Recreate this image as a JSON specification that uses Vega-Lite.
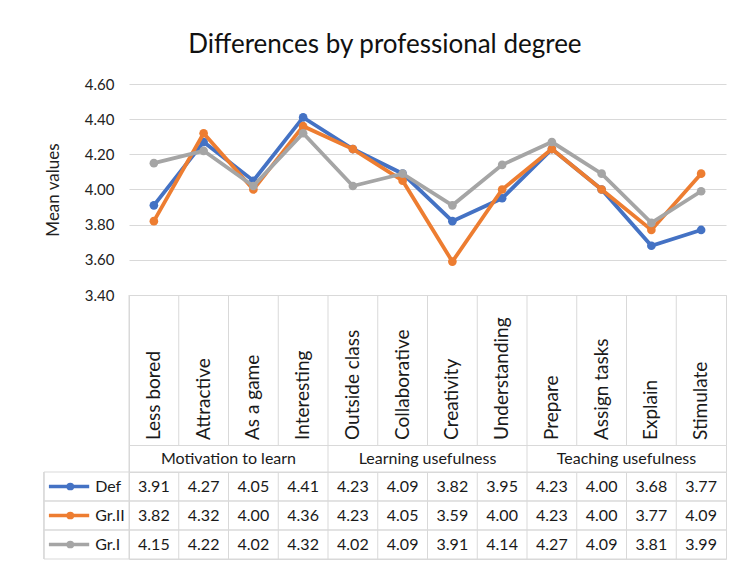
{
  "$schema": "https://vega.github.io/schema/vega-lite/v6.json",
  "background": "white",
  "padding": {"left": 42, "top": 32, "right": 5, "bottom": 5},
  "title": {"text": "Differences by professional degree", "font": "Lato", "fontSize": 26, "fontWeight": "normal", "color": "#111111", "anchor": "middle", "offset": 19},
  "spacing": 0,
  "bounds": "flush",
  "config": {"view": {"stroke": null}, "font": "Lato"},
  "datasets": {
    "values": [
      {"cat": "Less bored", "group": "Motivation to learn", "series": "Def", "value": 3.91},
      {"cat": "Attractive", "group": "Motivation to learn", "series": "Def", "value": 4.27},
      {"cat": "As a game", "group": "Motivation to learn", "series": "Def", "value": 4.05},
      {"cat": "Interesting", "group": "Motivation to learn", "series": "Def", "value": 4.41},
      {"cat": "Outside class", "group": "Learning usefulness", "series": "Def", "value": 4.23},
      {"cat": "Collaborative", "group": "Learning usefulness", "series": "Def", "value": 4.09},
      {"cat": "Creativity", "group": "Learning usefulness", "series": "Def", "value": 3.82},
      {"cat": "Understanding", "group": "Learning usefulness", "series": "Def", "value": 3.95},
      {"cat": "Prepare", "group": "Teaching usefulness", "series": "Def", "value": 4.23},
      {"cat": "Assign tasks", "group": "Teaching usefulness", "series": "Def", "value": 4.00},
      {"cat": "Explain", "group": "Teaching usefulness", "series": "Def", "value": 3.68},
      {"cat": "Stimulate", "group": "Teaching usefulness", "series": "Def", "value": 3.77},
      {"cat": "Less bored", "group": "Motivation to learn", "series": "Gr.II", "value": 3.82},
      {"cat": "Attractive", "group": "Motivation to learn", "series": "Gr.II", "value": 4.32},
      {"cat": "As a game", "group": "Motivation to learn", "series": "Gr.II", "value": 4.00},
      {"cat": "Interesting", "group": "Motivation to learn", "series": "Gr.II", "value": 4.36},
      {"cat": "Outside class", "group": "Learning usefulness", "series": "Gr.II", "value": 4.23},
      {"cat": "Collaborative", "group": "Learning usefulness", "series": "Gr.II", "value": 4.05},
      {"cat": "Creativity", "group": "Learning usefulness", "series": "Gr.II", "value": 3.59},
      {"cat": "Understanding", "group": "Learning usefulness", "series": "Gr.II", "value": 4.00},
      {"cat": "Prepare", "group": "Teaching usefulness", "series": "Gr.II", "value": 4.23},
      {"cat": "Assign tasks", "group": "Teaching usefulness", "series": "Gr.II", "value": 4.00},
      {"cat": "Explain", "group": "Teaching usefulness", "series": "Gr.II", "value": 3.77},
      {"cat": "Stimulate", "group": "Teaching usefulness", "series": "Gr.II", "value": 4.09},
      {"cat": "Less bored", "group": "Motivation to learn", "series": "Gr.I", "value": 4.15},
      {"cat": "Attractive", "group": "Motivation to learn", "series": "Gr.I", "value": 4.22},
      {"cat": "As a game", "group": "Motivation to learn", "series": "Gr.I", "value": 4.02},
      {"cat": "Interesting", "group": "Motivation to learn", "series": "Gr.I", "value": 4.32},
      {"cat": "Outside class", "group": "Learning usefulness", "series": "Gr.I", "value": 4.02},
      {"cat": "Collaborative", "group": "Learning usefulness", "series": "Gr.I", "value": 4.09},
      {"cat": "Creativity", "group": "Learning usefulness", "series": "Gr.I", "value": 3.91},
      {"cat": "Understanding", "group": "Learning usefulness", "series": "Gr.I", "value": 4.14},
      {"cat": "Prepare", "group": "Teaching usefulness", "series": "Gr.I", "value": 4.27},
      {"cat": "Assign tasks", "group": "Teaching usefulness", "series": "Gr.I", "value": 4.09},
      {"cat": "Explain", "group": "Teaching usefulness", "series": "Gr.I", "value": 3.81},
      {"cat": "Stimulate", "group": "Teaching usefulness", "series": "Gr.I", "value": 3.99}
    ],
    "cats": [
      {"cat": "Less bored", "group": "Motivation to learn"},
      {"cat": "Attractive", "group": "Motivation to learn"},
      {"cat": "As a game", "group": "Motivation to learn"},
      {"cat": "Interesting", "group": "Motivation to learn"},
      {"cat": "Outside class", "group": "Learning usefulness"},
      {"cat": "Collaborative", "group": "Learning usefulness"},
      {"cat": "Creativity", "group": "Learning usefulness"},
      {"cat": "Understanding", "group": "Learning usefulness"},
      {"cat": "Prepare", "group": "Teaching usefulness"},
      {"cat": "Assign tasks", "group": "Teaching usefulness"},
      {"cat": "Explain", "group": "Teaching usefulness"},
      {"cat": "Stimulate", "group": "Teaching usefulness"}
    ],
    "groups": [
      {"group": "Motivation to learn"},
      {"group": "Learning usefulness"},
      {"group": "Teaching usefulness"}
    ],
    "series": [
      {"series": "Def"},
      {"series": "Gr.II"},
      {"series": "Gr.I"}
    ]
  },
  "vconcat": [
    {
      "width": 597,
      "height": 211,
      "view": {"stroke": null},
      "data": {"name": "values"},
      "encoding": {
        "x": {"field": "cat", "type": "nominal", "scale": {"type": "point", "padding": 0.5, "domain": ["Less bored", "Attractive", "As a game", "Interesting", "Outside class", "Collaborative", "Creativity", "Understanding", "Prepare", "Assign tasks", "Explain", "Stimulate"]}, "axis": null},
        "y": {"field": "value", "type": "quantitative", "scale": {"domain": [3.4, 4.6], "nice": false, "zero": false},
          "axis": {"values": [3.4, 3.6, 3.8, 4.0, 4.2, 4.4, 4.6], "format": ".2f", "grid": true, "gridColor": "#D9D9D9", "gridWidth": 1, "domain": false, "ticks": false, "labelPadding": 15, "labelFont": "Lato", "labelFontSize": 15, "labelColor": "#222222", "title": "Mean values", "titleFont": "Lato", "titleFontSize": 17, "titleFontWeight": "normal", "titleColor": "#222222", "titlePadding": 22}},
        "color": {"field": "series", "type": "nominal", "scale": {"domain": ["Def", "Gr.II", "Gr.I"], "range": ["#4472C4", "#ED7D31", "#A5A5A5"]}, "legend": null}
      },
      "layer": [
        {"transform": [{"filter": "datum.series === 'Def'"}], "mark": {"type": "line", "strokeWidth": 3.8, "point": {"size": 75, "filled": true, "opacity": 1}}},
        {"transform": [{"filter": "datum.series === 'Gr.II'"}], "mark": {"type": "line", "strokeWidth": 3.8, "point": {"size": 75, "filled": true, "opacity": 1}}},
        {"transform": [{"filter": "datum.series === 'Gr.I'"}], "mark": {"type": "line", "strokeWidth": 3.8, "point": {"size": 75, "filled": true, "opacity": 1}}}
      ]
    },
    {
      "width": 597,
      "height": 150,
      "view": {"stroke": "#D9D9D9"},
      "data": {"name": "cats"},
      "layer": [
        {"mark": {"type": "rule", "color": "#D9D9D9", "strokeWidth": 1},
          "encoding": {"x": {"field": "cat", "type": "nominal", "bandPosition": 0, "scale": {"type": "band", "paddingInner": 0, "paddingOuter": 0, "domain": ["Less bored", "Attractive", "As a game", "Interesting", "Outside class", "Collaborative", "Creativity", "Understanding", "Prepare", "Assign tasks", "Explain", "Stimulate"]}, "axis": null}}},
        {"mark": {"type": "text", "angle": 270, "align": "left", "baseline": "middle", "dx": 5, "font": "Lato", "fontSize": 19, "color": "#1a1a1a"},
          "encoding": {
            "x": {"field": "cat", "type": "nominal", "scale": {"type": "band", "paddingInner": 0, "paddingOuter": 0, "domain": ["Less bored", "Attractive", "As a game", "Interesting", "Outside class", "Collaborative", "Creativity", "Understanding", "Prepare", "Assign tasks", "Explain", "Stimulate"]}, "axis": null},
            "y": {"datum": 0, "type": "quantitative", "scale": {"domain": [0, 1]}, "axis": null},
            "text": {"field": "cat"}
          }}
      ]
    },
    {
      "width": 597,
      "height": 27,
      "view": {"stroke": "#D9D9D9"},
      "data": {"name": "groups"},
      "encoding": {
        "x": {"field": "group", "type": "nominal", "scale": {"type": "band", "paddingInner": 0, "paddingOuter": 0, "domain": ["Motivation to learn", "Learning usefulness", "Teaching usefulness"]}, "axis": null}
      },
      "layer": [
        {"mark": {"type": "rule", "color": "#D9D9D9", "strokeWidth": 1}, "encoding": {"x": {"field": "group", "type": "nominal", "bandPosition": 0, "axis": null}}},
        {"mark": {"type": "text", "baseline": "middle", "font": "Lato", "fontSize": 16, "color": "#1a1a1a"}, "encoding": {"text": {"field": "group"}}}
      ]
    },
    {
      "width": 597,
      "height": 87,
      "view": {"stroke": "#D9D9D9"},
      "resolve": {"scale": {"x": "independent"}},
      "encoding": {
        "y": {"field": "series", "type": "nominal", "scale": {"type": "band", "paddingInner": 0, "paddingOuter": 0, "domain": ["Def", "Gr.II", "Gr.I"]}, "axis": null}
      },
      "layer": [
        {"data": {"name": "cats"}, "mark": {"type": "rule", "color": "#D9D9D9", "strokeWidth": 1},
          "encoding": {"x": {"field": "cat", "type": "nominal", "bandPosition": 0, "scale": {"type": "band", "paddingInner": 0, "paddingOuter": 0, "domain": ["Less bored", "Attractive", "As a game", "Interesting", "Outside class", "Collaborative", "Creativity", "Understanding", "Prepare", "Assign tasks", "Explain", "Stimulate"]}, "axis": null}, "y": null}},
        {"data": {"name": "series"}, "mark": {"type": "rule", "color": "#D9D9D9", "strokeWidth": 1},
          "encoding": {"x": {"datum": -1.71, "type": "quantitative", "scale": {"domain": [0, 12], "nice": false, "zero": false}, "axis": null}, "x2": {"datum": 12}, "y": {"field": "series", "type": "nominal", "bandPosition": 0}}},
        {"data": {"name": "series"}, "mark": {"type": "rule", "color": "#D9D9D9", "strokeWidth": 1},
          "encoding": {"x": {"datum": -1.71, "type": "quantitative", "scale": {"domain": [0, 12], "nice": false, "zero": false}, "axis": null}, "x2": {"datum": 12}, "y": {"field": "series", "type": "nominal", "bandPosition": 1}}},
        {"data": {"name": "series"}, "mark": {"type": "rule", "color": "#D9D9D9", "strokeWidth": 1},
          "encoding": {"x": {"datum": -1.71, "type": "quantitative", "scale": {"domain": [0, 12], "nice": false, "zero": false}, "axis": null}, "y": null}},
        {"data": {"name": "series"}, "mark": {"type": "rule", "strokeWidth": 3.5},
          "encoding": {"x": {"datum": -1.61, "type": "quantitative", "scale": {"domain": [0, 12], "nice": false, "zero": false}, "axis": null}, "x2": {"datum": -0.8}, "color": {"field": "series", "type": "nominal", "scale": {"domain": ["Def", "Gr.II", "Gr.I"], "range": ["#4472C4", "#ED7D31", "#A5A5A5"]}, "legend": null}}},
        {"data": {"name": "series"}, "mark": {"type": "point", "filled": true, "size": 60, "opacity": 1},
          "encoding": {"x": {"datum": -1.18, "type": "quantitative", "scale": {"domain": [0, 12], "nice": false, "zero": false}, "axis": null}, "color": {"field": "series", "type": "nominal", "scale": {"domain": ["Def", "Gr.II", "Gr.I"], "range": ["#4472C4", "#ED7D31", "#A5A5A5"]}, "legend": null}}},
        {"data": {"name": "series"}, "mark": {"type": "text", "align": "left", "baseline": "middle", "font": "Lato", "fontSize": 16, "color": "#1a1a1a"},
          "encoding": {"x": {"datum": -0.68, "type": "quantitative", "scale": {"domain": [0, 12], "nice": false, "zero": false}, "axis": null}, "text": {"field": "series"}}},
        {"data": {"name": "values"}, "mark": {"type": "text", "align": "center", "baseline": "middle", "font": "Lato", "fontSize": 16, "color": "#1a1a1a"},
          "encoding": {"x": {"field": "cat", "type": "nominal", "scale": {"type": "band", "paddingInner": 0, "paddingOuter": 0, "domain": ["Less bored", "Attractive", "As a game", "Interesting", "Outside class", "Collaborative", "Creativity", "Understanding", "Prepare", "Assign tasks", "Explain", "Stimulate"]}, "axis": null}, "text": {"field": "value", "type": "quantitative", "format": ".2f"}}}
      ]
    }
  ]
}
